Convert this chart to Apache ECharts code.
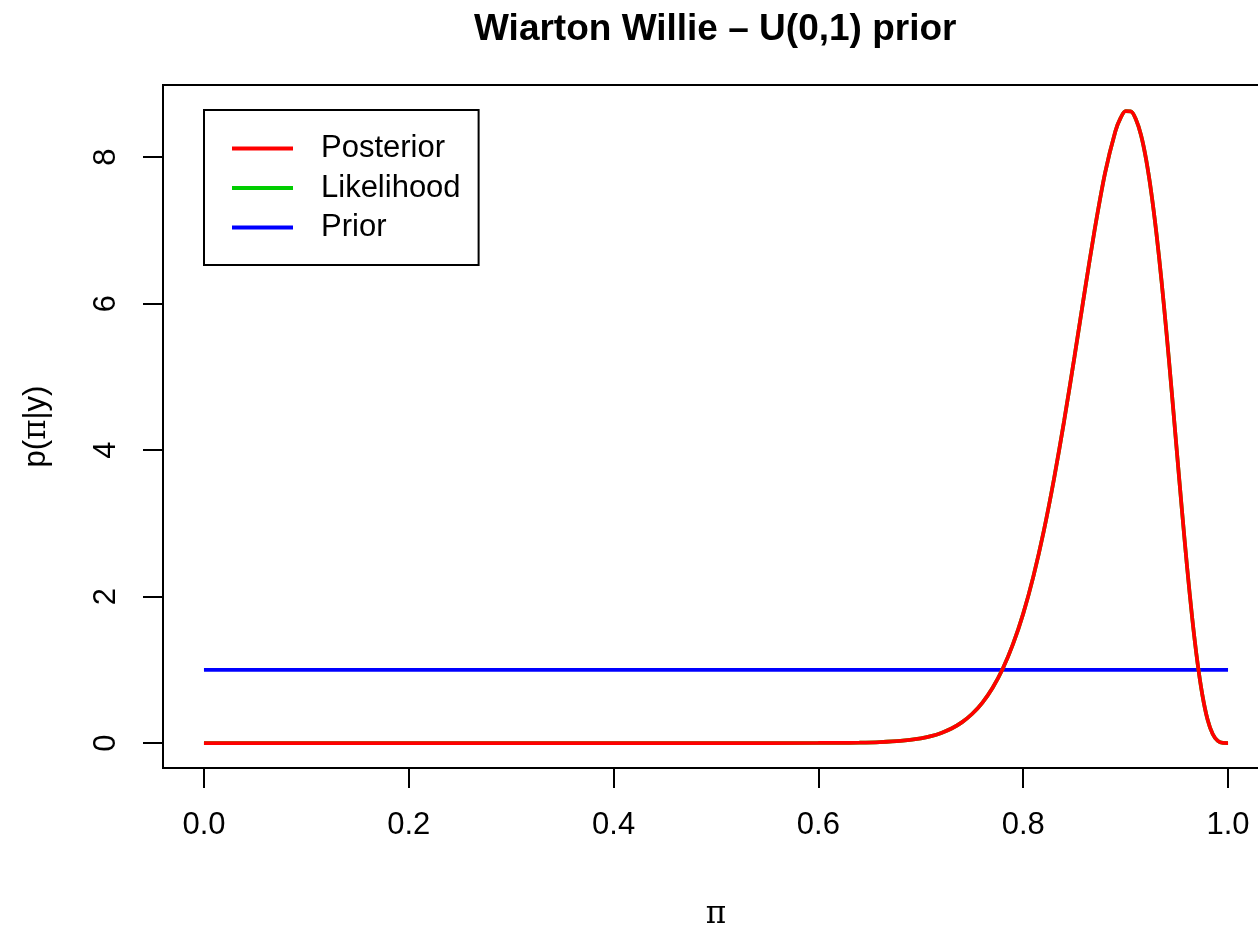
<!DOCTYPE html>
<html>
<head>
<meta charset="utf-8">
<script src="https://cdn.jsdelivr.net/npm/echarts@6/dist/echarts.min.js"></script>
<style>
html,body{margin:0;padding:0;background:#fff;}
#chart{width:1258px;height:926px;}
</style>
</head>
<body>
<div id="chart"></div>
<script>
// Values
const titleText = 'Wiarton Willie \u2013 U(0,1) prior';
const xTicks = [0, 0.2, 0.4, 0.6, 0.8, 1.0];
const yTicks = [0, 2, 4, 6, 8];
const xLabels = ['0.0', '0.2', '0.4', '0.6', '0.8', '1.0'];

// posterior curve (x, density)
const piX = [0, 0.1, 0.2, 0.3, 0.4, 0.5, 0.6, 0.62, 0.64, 0.66, 0.68, 0.70, 0.71, 0.72, 0.73, 0.74, 0.75, 0.76, 0.77, 0.78, 0.79,
  0.80, 0.81, 0.82, 0.83, 0.84, 0.85, 0.86, 0.87, 0.88, 0.89, 0.895, 0.90, 0.905, 0.91, 0.915, 0.92, 0.925, 0.93, 0.935,
  0.94, 0.945, 0.95, 0.955, 0.96, 0.965, 0.97, 0.975, 0.98, 0.985, 0.99, 0.995, 1.0];
const posterior = [0, 0, 0, 0, 0, 0, 0.0007, 0.0019, 0.0048, 0.012, 0.028, 0.064, 0.094, 0.138, 0.198, 0.282, 0.396, 0.549, 0.751, 1.014, 1.349,
  1.767, 2.279, 2.890, 3.601, 4.402, 5.268, 6.162, 7.027, 7.787, 8.352, 8.531, 8.625, 8.623, 8.516, 8.300, 7.967, 7.520, 6.967, 6.315,
  5.585, 4.799, 3.985, 3.175, 2.405, 1.708, 1.116, 0.651, 0.322, 0.123, 0.029, 0.002, 0];
// likelihood lies exactly under the posterior (uniform prior)
const likelihood = [0, 0, 0, 0, 0, 0, 0.0007, 0.0019, 0.0048, 0.012, 0.028, 0.064, 0.094, 0.138, 0.198, 0.282, 0.396, 0.549, 0.751, 1.014, 1.349,
  1.767, 2.279, 2.890, 3.601, 4.402, 5.268, 6.162, 7.027, 7.787, 8.352, 8.531, 8.625, 8.623, 8.516, 8.300, 7.967, 7.520, 6.967, 6.315,
  5.585, 4.799, 3.985, 3.175, 2.405, 1.708, 1.116, 0.651, 0.322, 0.123, 0.029, 0.002, 0];
const priorX = [0, 1];
const prior = [1, 1];

const seriesNames = ['Posterior', 'Likelihood', 'Prior'];

const pair = (xs, ys) => xs.map((x, i) => [x, ys[i]]);

const chart = echarts.init(document.getElementById('chart'), null, {renderer: 'canvas'});
const FONT = 'Liberation Sans';
const SYM = 'DejaVu Serif';
chart.setOption({
  animation: false,
  backgroundColor: '#ffffff',
  title: {
    text: titleText,
    left: 474, top: 11, padding: 0,
    textStyle: {fontFamily: FONT, fontWeight: 'bold', fontSize: 37, lineHeight: 37, color: '#000'}
  },
  legend: {
    data: seriesNames,
    orient: 'vertical',
    left: 204, top: 110,
    padding: [23, 18, 22, 28],
    itemGap: 8.5,
    itemWidth: 61, itemHeight: 4,
    icon: 'rect',
    borderColor: '#000', borderWidth: 2, borderRadius: 0,
    backgroundColor: '#fff',
    textStyle: {fontFamily: FONT, fontSize: 31, lineHeight: 31, color: '#000', padding: [0, 0, 0, 23]}
  },
  grid: {
    left: 163, top: 85, width: 1106, height: 683,
    outerBoundsMode: 'none', containLabel: false,
    show: true, borderColor: '#000', borderWidth: 2, backgroundColor: 'transparent'
  },
  xAxis: {
    type: 'value', min: -0.04, max: 1.04,
    name: '\u03c0', nameLocation: 'middle', nameGap: 131,
    nameTextStyle: {fontFamily: SYM, fontSize: 31, lineHeight: 31, color: '#000'},
    axisLine: {show: false, onZero: false},
    splitLine: {show: false},
    axisTick: {show: true, customValues: xTicks, length: 20, lineStyle: {color: '#000', width: 2}},
    axisLabel: {
      show: true, customValues: xTicks, margin: 42,
      formatter: v => xLabels[xTicks.findIndex(t => Math.abs(t - v) < 1e-9)] ?? String(v),
      fontFamily: FONT, fontSize: 31, lineHeight: 31, color: '#000'
    }
  },
  yAxis: {
    type: 'value', min: -0.341, max: 8.983,
    name: '{a|p(}{b|\u03c0}{a||y)}', nameLocation: 'middle', nameGap: 111, nameRotate: 90,
    nameTextStyle: {
      fontFamily: FONT, fontSize: 31, lineHeight: 31, color: '#000',
      rich: {
        a: {fontFamily: FONT, fontSize: 31, lineHeight: 31, color: '#000'},
        b: {fontFamily: SYM, fontSize: 31, lineHeight: 31, color: '#000'}
      }
    },
    axisLine: {show: false, onZero: false},
    splitLine: {show: false},
    axisTick: {show: true, customValues: yTicks, length: 20, lineStyle: {color: '#000', width: 2}},
    axisLabel: {
      show: true, customValues: yTicks, margin: 41, rotate: 90,
      fontFamily: FONT, fontSize: 31, lineHeight: 31, color: '#000'
    }
  },
  series: [
    {
      name: 'Prior', type: 'line', data: pair(priorX, prior),
      showSymbol: false, symbol: 'none', color: '#0000FF',
      lineStyle: {color: '#0000FF', width: 3.75}, z: 2
    },
    {
      name: 'Likelihood', type: 'line', data: pair(piX, likelihood),
      showSymbol: false, symbol: 'none', smooth: 0.3, color: '#00CD00',
      lineStyle: {color: '#00CD00', width: 3.75}, z: 3
    },
    {
      name: 'Posterior', type: 'line', data: pair(piX, posterior),
      showSymbol: false, symbol: 'none', smooth: 0.3, color: '#FF0000',
      lineStyle: {color: '#FF0000', width: 3.75}, z: 4
    }
  ]
});
</script>
</body>
</html>
